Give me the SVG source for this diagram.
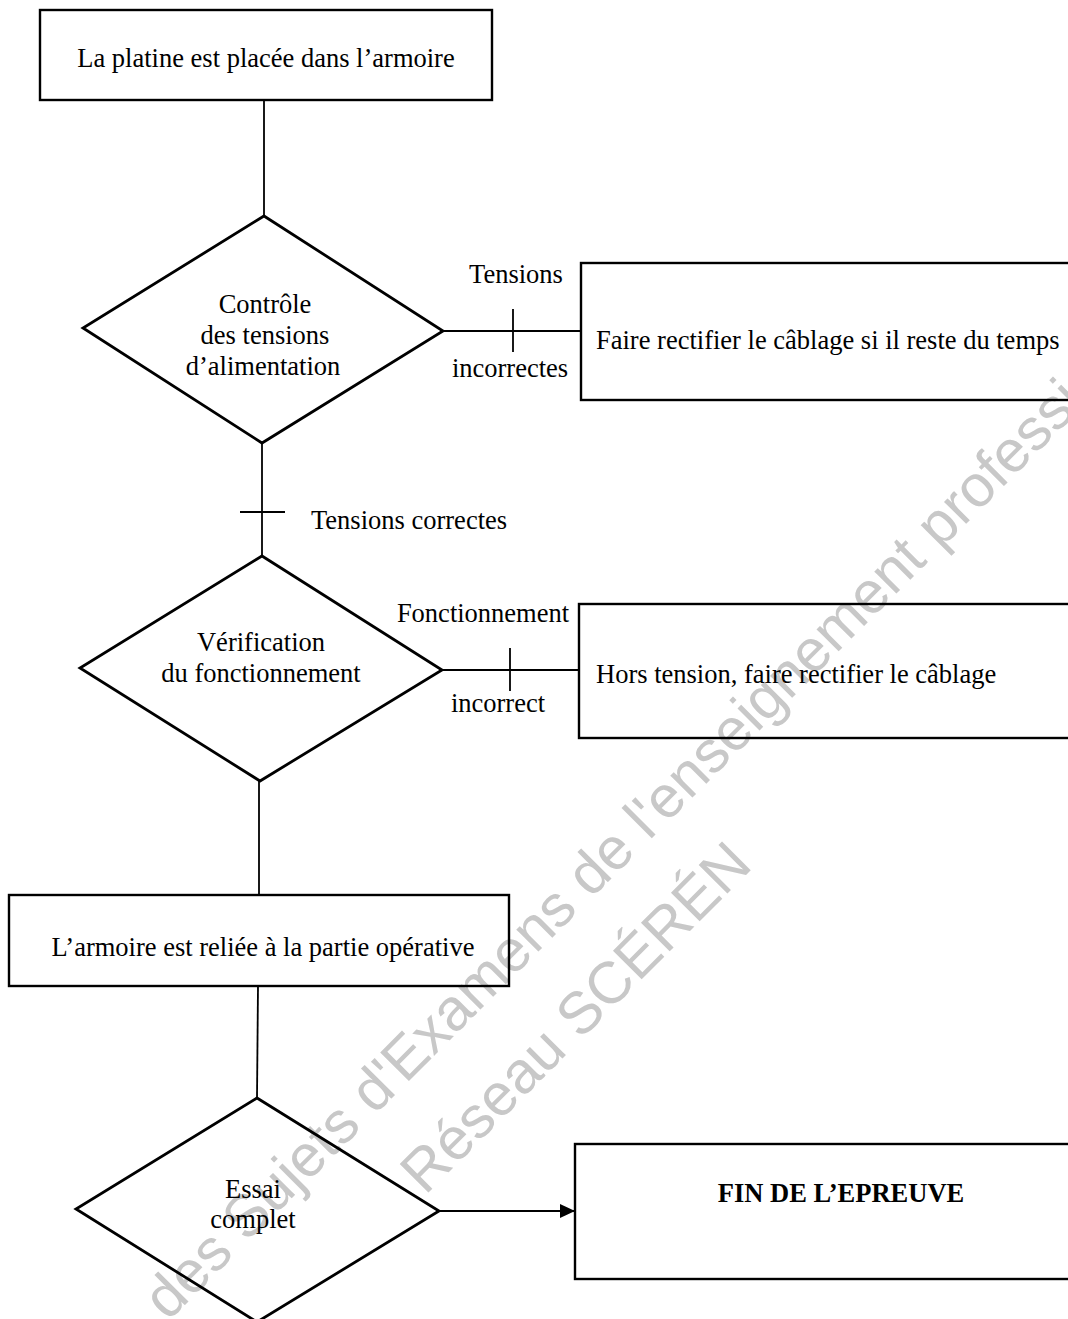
<svg xmlns="http://www.w3.org/2000/svg" width="1068" height="1319" viewBox="0 0 1068 1319">
  <style>
    .box { fill: none; stroke: #000; stroke-width: 2.4; }
    .dia { fill: none; stroke: #000; stroke-width: 2.8; stroke-linejoin: miter; }
    .ln { fill: none; stroke: #000; stroke-width: 1.8; }
    .t { font-family: "Liberation Serif", "Times New Roman", serif; font-size: 26.5px; fill: #000; }
    .c { text-anchor: middle; }
    .b { font-weight: bold; }
    .wm { font-family: "Liberation Sans", Arial, sans-serif; font-size: 59px; fill: #c8c8c8; }
  </style>
  <defs>
    <marker id="arrow" markerWidth="16" markerHeight="14" refX="15" refY="7" orient="auto" markerUnits="userSpaceOnUse">
      <path d="M0,0 L15,7 L0,14 Z" fill="#000"/>
    </marker>
  </defs>
  <rect width="1068" height="1319" fill="#fff"/>

  <g id="watermark">
    <text class="wm" transform="translate(168,1322) rotate(-45)">des Sujets d'Examens de l'enseignement professionnel</text>
    <text class="wm" transform="translate(425,1196) rotate(-45)">Réseau SCÉRÉN</text>
  </g>

  <g id="connectors">
    <line class="ln" x1="264" y1="100" x2="264" y2="216"/>
    <line class="ln" x1="443" y1="331" x2="581" y2="331"/>
    <line class="ln" x1="513" y1="309" x2="513" y2="352"/>
    <line class="ln" x1="262" y1="443" x2="262" y2="556"/>
    <line class="ln" x1="240" y1="512" x2="285" y2="512"/>
    <line class="ln" x1="442" y1="670" x2="579" y2="670"/>
    <line class="ln" x1="510" y1="648" x2="510" y2="691"/>
    <line class="ln" x1="259" y1="781" x2="259" y2="895"/>
    <line class="ln" x1="258" y1="986" x2="257" y2="1098"/>
    <line class="ln" x1="439" y1="1211" x2="575" y2="1211" marker-end="url(#arrow)"/>
    <text class="t c" x="516" y="283">Tensions</text>
    <text class="t c" x="510" y="377">incorrectes</text>
    <text class="t" x="311" y="529">Tensions correctes</text>
    <text class="t c" x="483" y="622">Fonctionnement</text>
    <text class="t c" x="498" y="712">incorrect</text>
  </g>

  <g id="n1">
    <rect class="box" x="40" y="10" width="452" height="90"/>
    <text class="t c" x="266" y="67">La platine est placée dans l’armoire</text>
  </g>

  <g id="d1">
    <polygon class="dia" points="264,216 443,331 262,443 83,328"/>
    <text class="t c" x="265" y="313">Contrôle</text>
    <text class="t c" x="265" y="344">des tensions</text>
    <text class="t c" x="263" y="375">d’alimentation</text>
  </g>

  <g id="n2">
    <rect class="box" x="581" y="263" width="510" height="137"/>
    <text class="t" x="596" y="349">Faire rectifier le câblage si il reste du temps</text>
  </g>

  <g id="d2">
    <polygon class="dia" points="262,556 442,670 260,781 80,668"/>
    <text class="t c" x="261" y="651">Vérification</text>
    <text class="t c" x="261" y="682">du fonctionnement</text>
  </g>

  <g id="n3">
    <rect class="box" x="579" y="604" width="510" height="134"/>
    <text class="t" x="596" y="683">Hors tension, faire rectifier le câblage</text>
  </g>

  <g id="n4">
    <rect class="box" x="9" y="895" width="500" height="91"/>
    <text class="t c" x="263" y="956">L’armoire est reliée à la partie opérative</text>
  </g>

  <g id="d3">
    <polygon class="dia" points="257,1098 439,1211 257,1322 76,1209"/>
    <text class="t c" x="253" y="1198">Essai</text>
    <text class="t c" x="253" y="1228">complet</text>
  </g>

  <g id="n5">
    <rect class="box" x="575" y="1144" width="515" height="135"/>
    <text class="t c b" x="841" y="1202">FIN DE L’EPREUVE</text>
  </g>
</svg>
